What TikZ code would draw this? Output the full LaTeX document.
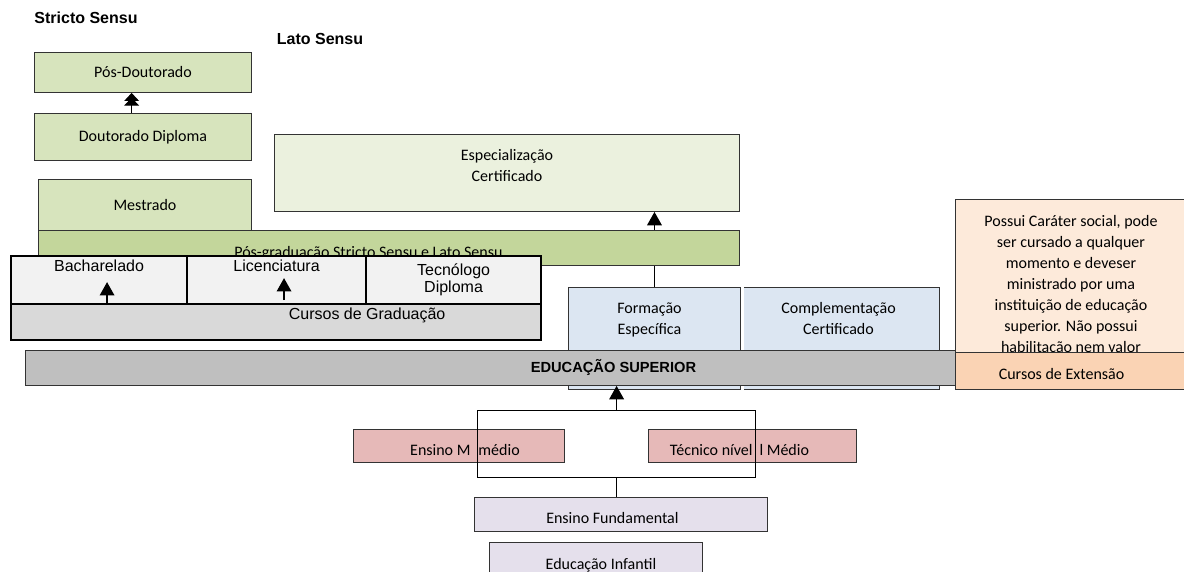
\documentclass[tikz,border=0pt]{standalone}
\usepackage{fontspec}
\setmainfont{Carlito}
\newfontfamily\arial{Liberation Sans}
\usetikzlibrary{arrows.meta}

\definecolor{stricto}{HTML}{D7E4BD}
\definecolor{lato}{HTML}{EBF1DE}
\definecolor{posgreen}{HTML}{C3D69B}
\definecolor{cellgray}{HTML}{F2F2F2}
\definecolor{gradgray}{HTML}{D9D9D9}
\definecolor{supgray}{HTML}{BFBFBF}
\definecolor{formblue}{HTML}{DCE6F2}
\definecolor{extlight}{HTML}{FDEADA}
\definecolor{extdark}{HTML}{FAD3B4}
\definecolor{medio}{HTML}{E6B9B8}
\definecolor{fundlila}{HTML}{E5E0EC}

\begin{document}
\begin{tikzpicture}[
  x=0.75pt, y=-0.75pt,
  font=\fontsize{12}{15.75}\selectfont,
  sz/.style 2 args={minimum width=#1*0.75pt, minimum height=#2*0.75pt},
  box/.style={draw=black!80, line width=0.7pt, anchor=north west, inner sep=0pt, align=center},
  cell/.style={draw=black, line width=1.6pt, anchor=north west, inner sep=0pt, fill=cellgray,
    align=center, font=\arial\fontsize{12}{12.5}\selectfont},
  lbl/.style={inner sep=0pt, align=center},
  albl/.style={lbl, font=\arial\fontsize{12}{12.5}\selectfont},
  title/.style={font=\arial\bfseries\fontsize{12}{14}\selectfont},
  arr/.style={-{Triangle[width=11pt,length=10pt]}, line width=0.9pt},
  arrtwo/.style={-{Triangle[width=11pt,length=6pt,sep=-2.5pt]Triangle[width=11pt,length=6pt]}, line width=0.9pt},
  link/.style={line width=0.9pt},
]
\useasboundingbox (0,0) rectangle (1184,571);

% titles
\node[title] (stricto) at (86,18) {Stricto Sensu};
\node[title] (lato) at (320,39) {Lato Sensu};

% Stricto Sensu
\node[box, fill=stricto, sz={217}{40}] (posdoc) at (34,52) {Pós-Doutorado};
\node[box, fill=stricto, sz={217}{47}] (doc) at (34,113) {Doutorado Diploma};
\node[box, fill=stricto, sz={213}{51}] (mest) at (38,179) {Mestrado};

% Lato Sensu
\node[box, fill=lato, sz={465}{77},
  label={[lbl, yshift=5.8pt]center:Especialização\\Certificado}] (esp) at (274,134) {};

% pos-graduacao bar
\node[box, fill=posgreen, sz={701}{35},
  label={[lbl, xshift=-15.4pt, yshift=-4.3pt]center:Pós-graduação Stricto Sensu e Lato Sensu}] (posg) at (38,230) {};

% graduacao
\node[cell, fill=gradgray, sz={530}{84},
  label={[albl, xshift=68.3pt, yshift=-12.7pt]center:Cursos de Graduação}] (grad) at (10,255) {};
\node[cell, sz={176}{48}, label={[albl, yshift=10.4pt]center:Bacharelado}] (bach) at (10,255) {};
\node[cell, sz={179}{48}, label={[albl, yshift=10.4pt]center:Licenciatura}] (lic) at (186,255) {};
\node[cell, sz={175}{48}] (tecn) at (365,255) {Tecnólogo\\Diploma};

% formacao / complementacao
\node[box, fill=formblue, sz={172}{102},
  label={[lbl, xshift=-3.75pt, yshift=14pt]center:Formação\\Específica}] (fmt) at (568,287) {};
\node[box, draw=none, fill=formblue, sz={195}{102},
  label={[lbl, xshift=-2.6pt, yshift=15.2pt]center:Complementação\\Certificado}] (cmp) at (744,287) {};
\draw[draw=black!80, line width=0.7pt] (cmp.north west) -- (cmp.north east) -- (cmp.south east) -- (cmp.south west);

% educacao superior
\node[box, fill=supgray, sz={1176}{35}, font=\arial\bfseries\fontsize{11}{13}\selectfont] (sup) at (25,350) {EDUCAÇÃO SUPERIOR};

% extensao
\node[box, fill=extlight, sz={231}{190},
  label={[lbl, yshift=7.2pt]center:Possui Caráter social, pode\\ser cursado a qualquer\\momento e deveser\\ministrado por uma\\instituição de educação\\superior. Não possui\\habilitação nem valor}] (extbg) at (955,199) {};
\node[box, fill=extdark, sz={231}{37},
  label={[lbl, xshift=-7.1pt, yshift=-2.4pt]center:Cursos de Extensão}] (ext) at (955,352) {};

% ensino basico
\node[box, fill=medio, sz={211}{33},
  label={[lbl, xshift=4.5pt, yshift=-2.9pt]center:Ensino M\hspace{6pt}médio}] (med) at (353,429) {};
\node[box, fill=medio, sz={208}{33},
  label={[lbl, xshift=-9.75pt, yshift=-2.9pt]center:Técnico nível\hspace{5.25pt}l Médio}] (tecm) at (648,429) {};
\node[box, fill=fundlila, sz={293}{34},
  label={[lbl, xshift=-6.4pt, yshift=-3pt]center:Ensino Fundamental}] (fund) at (474,497) {};
\node[box, fill=fundlila, sz={213}{40},
  label={[lbl, xshift=3.75pt, yshift=-2pt]center:Educação Infantil}] (inf) at (489,542) {};
\node[box, draw=black, line width=0.9pt, sz={278}{67}] (ramo) at (477,410) {};

% arrows
\draw[arrtwo] ([xshift=-8.5pt]doc.north) -- ([xshift=-8.5pt]posdoc.south);
\draw[arr] ([xshift=6pt]bach.south) -- ++(0,-23);
\draw[arr] ([xshift=5.6pt, yshift=3.75pt]lic.south) -- ++(0,-22);
\draw[arr] (fmt.north |- posg.north) -- (fmt.north |- esp.south);
\draw[link] (fmt.north |- posg.south) -- (fmt.north);
\draw[arr] (ramo.north) -- (ramo.north |- sup.south);
\draw[link] (ramo.south) -- (ramo.south |- fund.north);
\end{tikzpicture}
\end{document}
